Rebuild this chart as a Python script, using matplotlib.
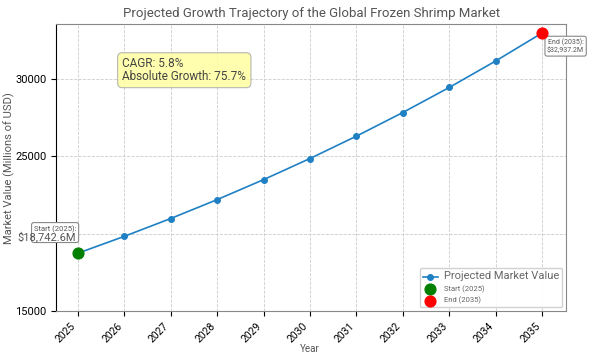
import matplotlib
matplotlib.use('Agg')
import matplotlib.pyplot as plt

years = [2025, 2026, 2027, 2028, 2029, 2030, 2031, 2032, 2033, 2034, 2035]
values = [18742.6, 19830, 20980, 22197, 23485, 24847, 26288, 27813, 29426, 31133, 32937.2]
cagr = 5.8
abs_growth = 75.7
y_ticks = [15000, 20000, 25000, 30000]
y_labels = ['15000', '', '25000', '30000']   # 20000 label sits under the start tag

plt.rcParams['font.family'] = ['Roboto', 'DejaVu Sans']

fig, ax = plt.subplots(figsize=(5.96, 3.57), dpi=100)
fig.subplots_adjust(left=0.094, right=0.95, top=0.932, bottom=0.128)

ax.plot(years, values, color='#1f80c4', marker='o', markersize=4, lw=1.2,
        label='Projected Market Value', zorder=3)
ax.scatter([years[0]], [values[0]], s=60, color='green', label='Start (2025)', zorder=4)
ax.scatter([years[-1]], [values[-1]], s=60, color='red', label='End (2035)', zorder=4)

box = dict(boxstyle='round,pad=0.3', fc='white', ec='#888888', lw=0.8)
ax.annotate('Start (2025):\n ', xy=(years[0], values[0]), xytext=(-44, 14),
            textcoords='offset pixels', fontsize=5.5, color='#555555', bbox=box)
ax.annotate(f'${values[0]:,.1f}M', xy=(years[0], values[0]), xytext=(-60, 13),
            textcoords='offset pixels', fontsize=8, color='#555555')
ax.annotate(f'End (2035):\n${values[-1]:,.1f}M', xy=(years[-1], values[-1]),
            xytext=(5, -19), textcoords='offset pixels', fontsize=5, color='#555555',
            ha='left', multialignment='right', bbox=box)

ax.text(0.13, 0.84, f'CAGR: {cagr}%\nAbsolute Growth: {abs_growth}%',
        transform=ax.transAxes, fontsize=8.5, color='#444444', va='center',
        linespacing=0.95,
        bbox=dict(boxstyle='round,pad=0.4', fc='#fefea0', ec='#aaaaaa', lw=0.8, alpha=0.85))

ax.set_xlim(2024.53, 2035.52)
ax.set_ylim(15000, 33500)
ax.set_xticks(years)
ax.set_yticks(y_ticks)
ax.set_yticklabels(y_labels)
ax.tick_params(axis='x', labelsize=7.5)
ax.tick_params(axis='y', labelsize=8)
plt.setp(ax.get_xticklabels(), rotation=45, ha='right')
ax.grid(True, linestyle='--', color='#cccccc', lw=0.6)

ax.set_title('Projected Growth Trajectory of the Global Frozen Shrimp Market',
             fontsize=9.5, color='#555555', pad=5)
ax.set_xlabel('Year', fontsize=7, color='#555555')
ax.xaxis.set_label_coords(0.498, -0.115)
ax.set_ylabel('Market Value (Millions of USD)', fontsize=8, color='#555555')
ax.yaxis.set_label_coords(-0.08, 0.5)
ax.spines['left'].set_color('black')
for s in ['top', 'right', 'bottom']:
    ax.spines[s].set_color('#888888')

leg = ax.legend(loc='lower right', fontsize=5.5, framealpha=0.9, edgecolor='#cccccc',
                borderpad=0.4, labelspacing=0.5)
leg.get_texts()[0].set_fontsize(8)
for t in leg.get_texts():
    t.set_color('#666666')

plt.savefig('out.png', dpi=100)
